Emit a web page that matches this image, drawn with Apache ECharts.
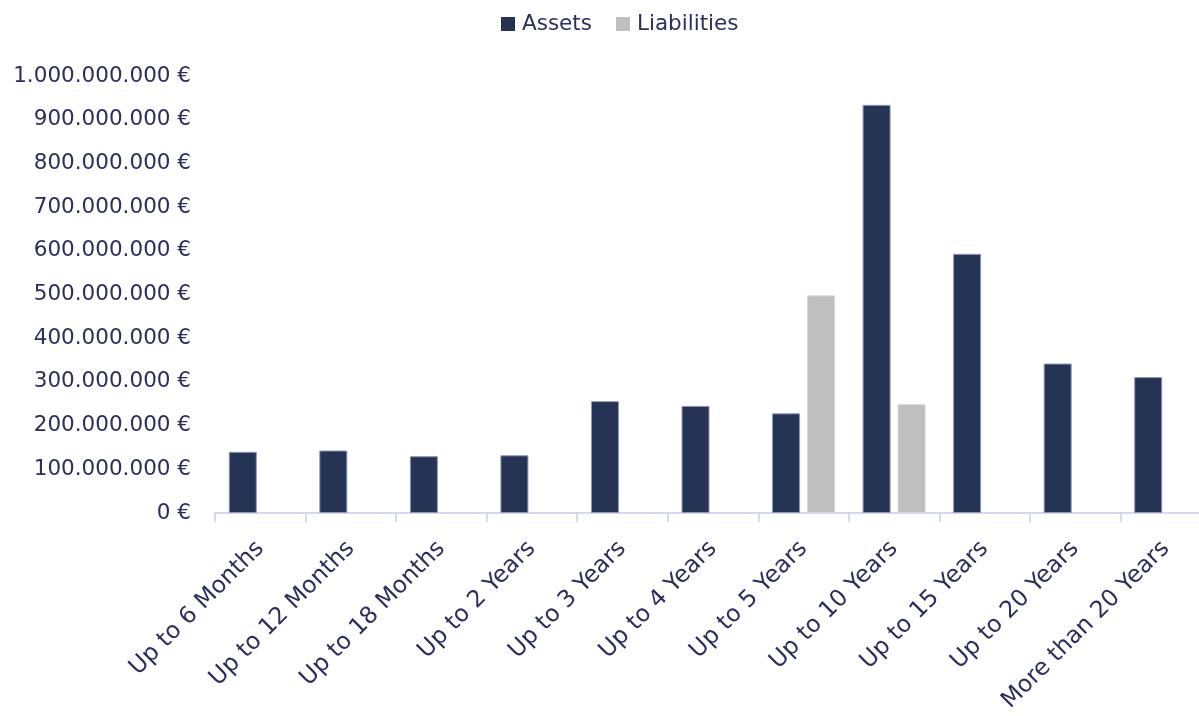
<!DOCTYPE html>
<html>
<head>
<meta charset="utf-8">
<script src="https://cdn.jsdelivr.net/npm/echarts@6/dist/echarts.min.js"></script>
<style>html,body{margin:0;padding:0;background:#fff}#c{width:1199px;height:716px}</style>
</head>
<body>
<div id="c"></div>
<script>
const categories = ["Up to 6 Months","Up to 12 Months","Up to 18 Months","Up to 2 Years","Up to 3 Years","Up to 4 Years","Up to 5 Years","Up to 10 Years","Up to 15 Years","Up to 20 Years","More than 20 Years"];
const assets = [140e6,143e6,130e6,132e6,256e6,245e6,228e6,934e6,593e6,342e6,311e6];
const liabilities = [null,null,null,null,null,null,498e6,249e6,null,null,null];

const textColor = '#2a2f5c';
const font = 'DejaVu Sans';
function fmt(v){
  return String(Math.round(v)).replace(/\B(?=(\d{3})+(?!\d))/g,'.') + ' €';
}
const chart = echarts.init(document.getElementById('c'));
chart.setOption({
  animation:false,
  legend:{
    top:8, left:496, itemWidth:14, itemHeight:14, itemGap:24,
    icon:'rect',
    itemStyle:{borderWidth:0},
    textStyle:{color:textColor, fontSize:21.5, fontFamily:font, padding:[0,0,0,2]},
    data:['Assets','Liabilities']
  },
  grid:{left:215, width:996, top:76, height:437, containLabel:false, outerBoundsMode:'none'},
  xAxis:{
    type:'category', data:categories,
    axisLine:{lineStyle:{color:'#d6d9ee', width:2}},
    axisTick:{show:true, length:9, lineStyle:{color:'#d6d9ee', width:2}},
    axisLabel:{rotate:45, color:textColor, fontSize:23.5, fontFamily:font, margin:32, interval:0}
  },
  yAxis:{
    type:'value', min:0, max:1000e6, interval:100e6,
    axisLine:{show:false}, axisTick:{show:false}, splitLine:{show:false},
    axisLabel:{color:textColor, fontSize:21.5, fontFamily:font, margin:24, formatter:fmt}
  },
  series:[
    {name:'Assets', type:'bar', data:assets, barWidth:28, barGap:'25%',
     itemStyle:{color:'#253355', borderColor:'#8e97b8', borderWidth:1}},
    {name:'Liabilities', type:'bar', data:liabilities, barWidth:28,
     itemStyle:{color:'#bfbfbf', borderColor:'#d8d8d8', borderWidth:1}}
  ]
});
</script>
</body>
</html>
